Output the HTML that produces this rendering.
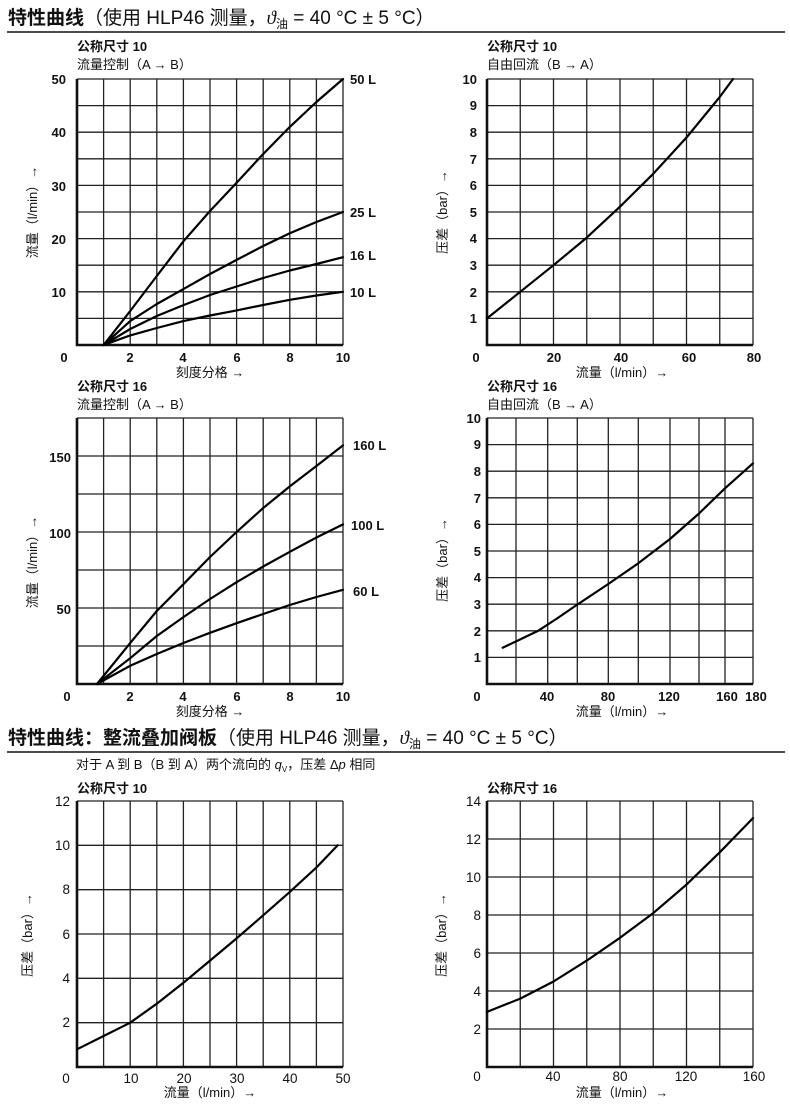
<!DOCTYPE html>
<html><head><meta charset="utf-8">
<style>
html,body{margin:0;padding:0;background:#fff;}
svg{display:block;}
text{font-family:"Liberation Sans","Noto Sans CJK SC",sans-serif;fill:#111;}
.t{font-size:13px;font-weight:bold;}
.s{font-size:13px;}
.tk{font-size:13px;font-weight:bold;}
.tk2{font-size:13.5px;}
.g{fill:none;stroke:#222;stroke-width:1.3;}
.ax{fill:none;stroke:#111;stroke-width:2.6;}
.c{fill:none;stroke:#000;stroke-width:2.2;stroke-linejoin:round;stroke-linecap:round;}
</style></head>
<body>
<svg width="790" height="1115" viewBox="0 0 790 1115" xmlns="http://www.w3.org/2000/svg">
<!-- Header 1 -->
<text x="8" y="24" style="font-size:19px"><tspan font-weight="bold">特性曲线</tspan>（使用 HLP46 测量，<tspan font-family="Liberation Serif" font-style="italic">ϑ</tspan><tspan font-size="12" dy="4">油</tspan><tspan dy="-4"> = 40 °C ± 5 °C）</tspan></text>
<line x1="7" y1="32" x2="785" y2="32" stroke="#111" stroke-width="1.6"/>

<!-- Chart 1 -->
<text class="t" x="77" y="51">公称尺寸 10</text>
<text class="s" x="77" y="69">流量控制（A → B）</text>
<g transform="translate(77,79)">
<path class="g" d="M26.6 0V266M53.2 0V266M79.8 0V266M106.4 0V266M133 0V266M159.6 0V266M186.2 0V266M212.8 0V266M239.4 0V266M266 0V266M0 0H266M0 26.6H266M0 53.2H266M0 79.8H266M0 106.4H266M0 133H266M0 159.6H266M0 186.2H266M0 212.8H266M0 239.4H266"/>
<path class="ax" d="M0 0V266H266"/>
<polyline class="c" points="26.6,266 53.2,232 79.8,197 106.4,162.3 133,132 159.6,103.7 186.2,75 212.8,47.9 239.4,23 266,0"/>
<polyline class="c" points="26.6,266 53.2,242.1 79.8,225 106.4,210.1 133,195 159.6,180.9 186.2,167 212.8,154.3 239.4,143 266,133"/>
<polyline class="c" points="26.6,266 53.2,250 79.8,237 106.4,226.1 133,216 159.6,207.5 186.2,199 212.8,191.5 239.4,185 266,178.2"/>
<polyline class="c" points="26.6,266 53.2,256.4 79.8,249 106.4,242.1 133,236.5 159.6,231.4 186.2,226 212.8,220.8 239.4,216.5 266,212.8"/>
</g>
<g class="tk" text-anchor="end"><text x="66" y="84">50</text><text x="66" y="137">40</text><text x="66" y="191">30</text><text x="66" y="244">20</text><text x="66" y="297">10</text></g>
<g class="tk" text-anchor="middle"><text x="64" y="362">0</text><text x="130" y="362">2</text><text x="183" y="362">4</text><text x="237" y="362">6</text><text x="290" y="362">8</text><text x="343" y="362">10</text></g>
<text class="tk" x="350" y="84">50 L</text><text class="tk" x="350" y="217">25 L</text><text class="tk" x="350" y="260">16 L</text><text class="tk" x="350" y="297">10 L</text>
<text class="s" x="210" y="377" text-anchor="middle">刻度分格 →</text>
<text class="s" transform="translate(37,212) rotate(-90)" text-anchor="middle">流量（l/min）→</text>

<!-- Chart 2 -->
<text class="t" x="487" y="51">公称尺寸 10</text>
<text class="s" x="487" y="69">自由回流（B → A）</text>
<g transform="translate(487,79)">
<path class="g" d="M33.25 0V266M66.5 0V266M99.75 0V266M133 0V266M166.25 0V266M199.5 0V266M232.75 0V266M266 0V266M0 0H266M0 26.6H266M0 53.2H266M0 79.8H266M0 106.4H266M0 133H266M0 159.6H266M0 186.2H266M0 212.8H266M0 239.4H266"/>
<path class="ax" d="M0 0V266H266"/>
<polyline class="c" points="0,239.4 33.25,212.8 66.5,186.2 99.75,158.6 133,127.7 166.25,94.8 199.5,58.5 232.75,18 246,0"/>
</g>
<g class="tk" text-anchor="end"><text x="477" y="84">10</text><text x="477" y="110">9</text><text x="477" y="137">8</text><text x="477" y="164">7</text><text x="477" y="190">6</text><text x="477" y="217">5</text><text x="477" y="243">4</text><text x="477" y="270">3</text><text x="477" y="297">2</text><text x="477" y="323">1</text></g>
<g class="tk" text-anchor="middle"><text x="476" y="362">0</text><text x="554" y="362">20</text><text x="621" y="362">40</text><text x="689" y="362">60</text><text x="754" y="362">80</text></g>
<text class="s" x="622" y="377" text-anchor="middle">流量（l/min）→</text>
<text class="s" transform="translate(447,212) rotate(-90)" text-anchor="middle">压差（bar）→</text>

<!-- Chart 3 -->
<text class="t" x="77" y="391">公称尺寸 16</text>
<text class="s" x="77" y="409">流量控制（A → B）</text>
<g transform="translate(77,418)">
<path class="g" d="M26.6 0V266M53.2 0V266M79.8 0V266M106.4 0V266M133 0V266M159.6 0V266M186.2 0V266M212.8 0V266M239.4 0V266M266 0V266M0 0H266M0 38H266M0 76H266M0 114H266M0 152H266M0 190H266M0 228H266"/>
<path class="ax" d="M0 0V266H266"/>
<polyline class="c" points="20,266 53.2,225 79.8,193 106.4,166.2 133,139 159.6,114 186.2,90 212.8,68.4 239.4,48 266,27.4"/>
<polyline class="c" points="20,266 53.2,240.2 79.8,218 106.4,199.1 133,181 159.6,164.2 186.2,148.5 212.8,133.8 239.4,119.5 266,106.4"/>
<polyline class="c" points="20,266 53.2,247.8 79.8,236 106.4,225 133,214.8 159.6,205.2 186.2,196 212.8,187 239.4,179 266,171.8"/>
</g>
<g class="tk" text-anchor="end"><text x="71" y="462">150</text><text x="71" y="538">100</text><text x="71" y="614">50</text></g>
<g class="tk" text-anchor="middle"><text x="67" y="701">0</text><text x="130" y="701">2</text><text x="183" y="701">4</text><text x="237" y="701">6</text><text x="290" y="701">8</text><text x="343" y="701">10</text></g>
<text class="tk" x="353" y="450">160 L</text><text class="tk" x="351" y="530">100 L</text><text class="tk" x="353" y="596">60 L</text>
<text class="s" x="210" y="716" text-anchor="middle">刻度分格 →</text>
<text class="s" transform="translate(37,562) rotate(-90)" text-anchor="middle">流量（l/min）→</text>

<!-- Chart 4 -->
<text class="t" x="487" y="391">公称尺寸 16</text>
<text class="s" x="487" y="409">自由回流（B → A）</text>
<g transform="translate(487,418)">
<path class="g" d="M29 0V266M60.7 0V266M90.3 0V266M121.3 0V266M151.3 0V266M183 0V266M212 0V266M238 0V266M266 0V266M0 0H266M0 26.6H266M0 53.2H266M0 79.8H266M0 106.4H266M0 133H266M0 159.6H266M0 186.2H266M0 212.8H266M0 239.4H266"/>
<path class="ax" d="M0 0V266H266"/>
<polyline class="c" points="15.7,229.7 33,221.5 51.3,212.7 70,200.5 89.7,187 121.3,166 151.3,145.3 183,121 212,95.5 238,70.3 266,45.3"/>
</g>
<g class="tk" text-anchor="end"><text x="481" y="423">10</text><text x="481" y="449">9</text><text x="481" y="476">8</text><text x="481" y="503">7</text><text x="481" y="529">6</text><text x="481" y="556">5</text><text x="481" y="582">4</text><text x="481" y="609">3</text><text x="481" y="636">2</text><text x="481" y="662">1</text></g>
<g class="tk" text-anchor="middle"><text x="477" y="701">0</text><text x="547" y="701">40</text><text x="608" y="701">80</text><text x="669" y="701">120</text><text x="727" y="701">160</text><text x="756" y="701">180</text></g>
<text class="s" x="622" y="716" text-anchor="middle">流量（l/min）→</text>
<text class="s" transform="translate(447,560) rotate(-90)" text-anchor="middle">压差（bar）→</text>

<!-- Header 2 -->
<text x="8" y="744" style="font-size:19px"><tspan font-weight="bold">特性曲线：整流叠加阀板</tspan>（使用 HLP46 测量，<tspan font-family="Liberation Serif" font-style="italic">ϑ</tspan><tspan font-size="12" dy="4">油</tspan><tspan dy="-4"> = 40 °C ± 5 °C）</tspan></text>
<line x1="7" y1="752" x2="785" y2="752" stroke="#111" stroke-width="1.6"/>
<text class="s" x="76" y="769">对于 A 到 B（B 到 A）两个流向的 <tspan font-style="italic">q</tspan><tspan font-size="8" dy="3">V</tspan><tspan dy="-3">，压差 Δ</tspan><tspan font-style="italic">p</tspan> 相同</text>

<!-- Chart 5 -->
<text class="t" x="77" y="793">公称尺寸 10</text>
<g transform="translate(77,801)">
<path class="g" d="M26.6 0V266M53.2 0V266M79.8 0V266M106.4 0V266M133 0V266M159.6 0V266M186.2 0V266M212.8 0V266M239.4 0V266M266 0V266M0 0H266M0 44.33H266M0 88.67H266M0 133H266M0 177.33H266M0 221.67H266"/>
<path class="ax" d="M0 0V266H266"/>
<polyline class="c" points="0,248.3 26.6,235 53.2,221.7 79.8,202.7 106.4,181.8 133,159.6 159.6,137.4 186.2,114.3 212.8,90.9 239.4,66.5 260.7,44.3"/>
</g>
<g class="tk2" text-anchor="end"><text x="70" y="806">12</text><text x="70" y="850">10</text><text x="70" y="894">8</text><text x="70" y="939">6</text><text x="70" y="983">4</text><text x="70" y="1027">2</text></g>
<g class="tk2" text-anchor="middle"><text x="66" y="1083">0</text><text x="131" y="1083">10</text><text x="184" y="1083">20</text><text x="237" y="1083">30</text><text x="290" y="1083">40</text><text x="343" y="1083">50</text></g>
<text class="s" x="210" y="1097" text-anchor="middle">流量（l/min）→</text>
<text class="s" transform="translate(32,935) rotate(-90)" text-anchor="middle">压差（bar）→</text>

<!-- Chart 6 -->
<text class="t" x="487" y="793">公称尺寸 16</text>
<g transform="translate(487,801)">
<path class="g" d="M33.25 0V266M66.5 0V266M99.75 0V266M133 0V266M166.25 0V266M199.5 0V266M232.75 0V266M266 0V266M0 0H266M0 38H266M0 76H266M0 114H266M0 152H266M0 190H266M0 228H266"/>
<path class="ax" d="M0 0V266H266"/>
<polyline class="c" points="0,210.9 33.25,197.6 66.5,180.5 99.75,159.6 133,136.8 166.25,112.1 199.5,83.6 232.75,51.3 266,17.1"/>
</g>
<g class="tk2" text-anchor="end"><text x="481" y="806">14</text><text x="481" y="844">12</text><text x="481" y="882">10</text><text x="481" y="920">8</text><text x="481" y="958">6</text><text x="481" y="996">4</text><text x="481" y="1034">2</text></g>
<g class="tk2" text-anchor="middle"><text x="477" y="1081">0</text><text x="553" y="1081">40</text><text x="620" y="1081">80</text><text x="686" y="1081">120</text><text x="754" y="1081">160</text></g>
<text class="s" x="622" y="1097" text-anchor="middle">流量（l/min）→</text>
<text class="s" transform="translate(446,935) rotate(-90)" text-anchor="middle">压差（bar）→</text>
</svg>
</body></html>
